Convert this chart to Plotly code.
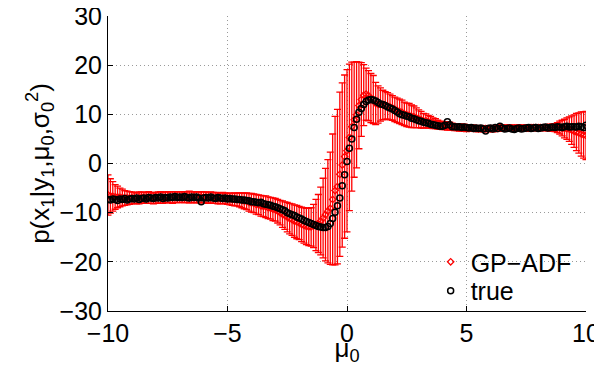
import numpy as np
import plotly.graph_objects as go

# sampling grid of mu_0
mu0 = np.linspace(-10, 10, 201)

gp_mean = [
    -6.4, -6.6, -6.7, -6.8, -6.8, -6.9, -6.9, -7.0, -7.0, -7.0, -7.0,
    -7.0, -7.1, -7.0, -6.9, -7.0, -7.0, -6.9, -7.0, -7.1, -7.0,
    -6.9, -6.9, -7.0, -6.9, -6.8, -6.9, -6.9, -6.8, -6.9, -6.8,
    -6.8, -6.9, -6.8, -6.8, -6.9, -6.8, -6.9, -6.9, -6.8, -6.9,
    -6.9, -7.0, -6.9, -7.0, -7.0, -7.1, -7.1, -7.0, -7.1, -7.2,
    -7.2, -7.3, -7.3, -7.3, -7.4, -7.5, -7.6, -7.7, -7.9, -8.0,
    -8.1, -8.3, -8.4, -8.6, -8.7, -8.8, -9.0, -9.1, -9.3, -9.4,
    -9.7, -10.0, -10.3, -10.6, -10.9, -11.2, -11.4, -11.7, -11.9, -12.1,
    -12.4, -12.6, -12.8, -12.9, -12.9, -12.7, -12.5, -12.2, -11.7, -11.1,
    -10.4, -9.7, -9.1, -7.3, -5.5, -4.7, -2.2, -0.3, 1.4, 2.6,
    5.3, 7.5, 8.9, 9.9, 11.8, 13.0, 13.9, 14.1, 13.8, 13.3,
    13.0, 12.2, 12.0, 12.0, 11.9, 11.8, 11.7, 11.5, 11.3, 11.0,
    10.8, 10.6, 10.4, 10.1, 9.9, 9.8, 9.6, 9.5, 9.3, 9.1,
    8.9, 8.7, 8.7, 8.5, 8.4, 8.2, 8.1, 7.9, 7.8, 7.7,
    7.7, 7.6, 7.6, 7.5, 7.4,
    7.4, 7.3, 7.3, 7.3, 7.2, 7.2, 7.2, 7.2, 7.1, 7.1,
    7.1, 7.1, 7.1, 7.1, 7.1, 7.1, 7.1, 7.2, 7.2, 7.2,
    7.2, 7.2, 7.2, 7.2, 7.2, 7.2, 7.2, 7.2, 7.2, 7.2,
    7.2, 7.3, 7.3, 7.3, 7.3, 7.3, 7.3, 7.3, 7.3, 7.3,
    7.3, 7.3,
    7.3, 7.3, 7.2, 7.1, 7.1, 7.0, 6.8, 6.6, 6.4, 6.2, 6.0, 5.8, 5.7,
]

gp_err = [
    4.1, 3.5, 3.0, 2.5, 2.2, 1.9, 1.7, 1.5, 1.4, 1.3, 1.2,
    1.1, 1.1, 1.2, 1.1, 1.1, 1.1, 1.2, 1.1, 1.1, 1.1,
    1.1, 1.2, 1.1, 1.1, 1.1, 1.1, 1.2, 1.1, 1.1, 1.1,
    1.1, 1.1, 1.1, 1.2, 1.1, 1.1, 1.1, 1.1, 1.1, 1.1,
    1.1, 1.1, 1.1, 1.1, 1.1, 1.1, 1.1, 1.1, 1.1, 1.1,
    1.2, 1.2, 1.3, 1.3, 1.4, 1.5, 1.6, 1.7, 1.8, 1.9,
    1.9, 2.0, 2.0, 2.1, 2.1, 2.2, 2.2, 2.2, 2.3, 2.3,
    2.4, 2.5, 2.7, 2.8, 3.0, 3.1, 3.2, 3.3, 3.4, 3.4,
    3.5, 3.6, 3.7, 3.8, 3.9, 4.4, 5.2, 5.9, 6.9, 8.1,
    9.4, 10.5, 11.4, 13.3, 15.1, 15.7, 16.7, 16.7, 16.6, 16.5,
    14.9, 13.1, 11.7, 10.8, 8.8, 7.5, 6.2, 5.3, 5.1, 5.0,
    4.9, 4.3, 3.8, 3.4, 3.0, 2.8, 2.7, 2.6, 2.5, 2.5,
    2.5, 2.5, 2.5, 2.4, 2.4, 2.4, 2.3, 2.2, 2.0, 1.8,
    1.7, 1.5, 1.4, 1.3, 1.2, 1.1, 1.0, 0.9, 0.8, 0.8,
    0.8, 0.8, 0.8, 0.7, 0.7,
    0.7, 0.7, 0.7, 0.7, 0.7, 0.6, 0.6, 0.6, 0.6, 0.6,
    0.6, 0.6, 0.6, 0.6, 0.6, 0.6, 0.6, 0.6, 0.6, 0.6,
    0.6, 0.6, 0.6, 0.6, 0.6, 0.6, 0.6, 0.6, 0.6, 0.6,
    0.6, 0.6, 0.6, 0.6, 0.6, 0.6, 0.6, 0.6, 0.6, 0.7,
    0.7, 0.8,
    1.0, 1.3, 1.6, 1.9, 2.2, 2.5, 2.9, 3.3, 3.8, 4.1, 4.5, 4.7, 4.9,
]

true_vals = [
    -7.3, -7.4, -7.2, -7.3, -7.5, -7.2, -7.3, -7.1, -7.4, -7.2, -7.1,
    -7.2, -7.0, -7.3, -7.1, -7.0, -7.2, -6.9, -7.0, -7.1, -6.9,
    -7.0, -6.8, -7.1, -6.9, -7.0, -6.8, -6.9, -6.7, -6.9, -6.8,
    -6.9, -6.7, -6.9, -7.0, -6.8, -6.9, -6.8, -7.0, -7.8, -7.0,
    -6.9, -7.0, -6.8, -7.0, -7.1, -6.9, -7.0, -7.1, -7.0, -7.2,
    -7.1, -7.2, -7.2, -7.3, -7.3, -7.4, -7.4, -7.5, -7.6, -7.8,
    -7.8, -7.9, -8.0, -7.9, -8.2, -8.3, -8.4, -8.5, -8.7, -8.8,
    -9.0, -9.2, -9.4, -9.6, -10.0, -10.2, -10.4, -10.6, -10.9, -11.1,
    -11.3, -11.6, -11.8, -12.0, -12.2, -12.4, -12.6, -12.8, -12.9, -13.0,
    -13.0, -12.8, -12.2, -11.2, -9.9, -8.6, -7.0, -4.5, -2.3, 0.4,
    3.1, 5.0, 7.3, 9.0, 10.4, 11.2, 12.0, 12.6, 12.9, 13.0,
    12.9, 12.7, 12.4, 12.1, 12.0, 11.8, 11.5, 11.3, 11.1, 10.8,
    10.5, 10.1, 9.9, 9.8, 9.6, 9.5, 9.2, 9.1, 8.9, 8.7,
    8.6, 8.4, 8.3, 8.2, 8.0, 7.9, 7.8, 7.7, 7.6, 7.6,
    7.8, 8.5, 7.9, 7.5, 7.5, 7.4, 7.5, 7.3, 7.4, 7.3,
    7.2, 7.3, 7.1, 7.2, 7.1, 7.2, 7.0, 6.6, 7.1, 7.2,
    7.0, 7.3, 7.1, 7.6, 7.2, 7.0, 7.1, 7.2, 7.0, 6.9,
    7.1, 7.2, 7.0, 7.1, 7.2, 7.3, 7.1, 7.2, 7.3, 7.1,
    7.2, 7.3, 7.4, 7.2, 7.3, 7.4, 7.3, 7.5, 7.4, 7.3,
    7.5, 7.6, 7.4, 7.5, 7.5, 7.4, 7.6, 7.5, 7.3, 7.8,
]

x_ticks = [-10, -5, 0, 5, 10]
y_ticks = [-30, -20, -10, 0, 10, 20, 30]

FONT = "Liberation Sans"

fig = go.Figure()
fig.add_trace(go.Scatter(
    x=mu0, y=gp_mean, mode="markers", name="GP\u2212ADF", legend="legend",
    marker=dict(symbol="diamond-open", size=5, color="#ff0000",
                line=dict(width=1.2, color="#ff0000")),
    error_y=dict(type="data", array=gp_err, visible=True,
                 color="#ff0000", thickness=1.3, width=3.5),
))
fig.add_trace(go.Scatter(
    x=mu0, y=true_vals, mode="markers", name="true", legend="legend2",
    marker=dict(symbol="circle-open", size=6, color="#000000",
                line=dict(width=1.5, color="#000000")),
))

axis_style = dict(showgrid=True, gridcolor="#9a9a9a", griddash="1px,3px", gridwidth=1,
                  zeroline=False, showline=True, linecolor="#000000", linewidth=1,
                  ticks="inside", ticklen=5, tickcolor="#000000", automargin=False,
                  ticklabeloverflow="allow",
                  tickfont=dict(family=FONT, size=25, color="#000000"))

leg_common = dict(xanchor="left", yanchor="middle", bgcolor="rgba(0,0,0,0)",
                  borderwidth=0, itemwidth=30,
                  font=dict(family=FONT, size=25, color="#000000"))

# the page body adds an 8px offset, so the figure is sized to fit inside it
fig.update_layout(
    width=594, height=358,
    margin=dict(l=100, r=16, t=8, b=55, autoexpand=False),
    paper_bgcolor="white", plot_bgcolor="white",
    font=dict(family=FONT, size=25, color="#000000"),
    showlegend=True,
    legend=dict(x=0.675, y=0.166, **leg_common),
    legend2=dict(x=0.675, y=0.068, **leg_common),
)
fig.update_xaxes(range=[-10, 10], tickvals=x_ticks, **axis_style,
                 title=dict(text="\u03bc<sub>0</sub>", standoff=0,
                            font=dict(family=FONT, size=26)))
fig.update_yaxes(range=[-30, 30], tickvals=y_ticks, **axis_style,
                 title=dict(text="p(x<sub>1</sub>|y<sub>1</sub>,\u03bc<sub>0</sub>,\u03c3<sub>0</sub><sup>2</sup>)",
                            standoff=2, font=dict(family=FONT, size=26)))

fig.write_html("out.html")
